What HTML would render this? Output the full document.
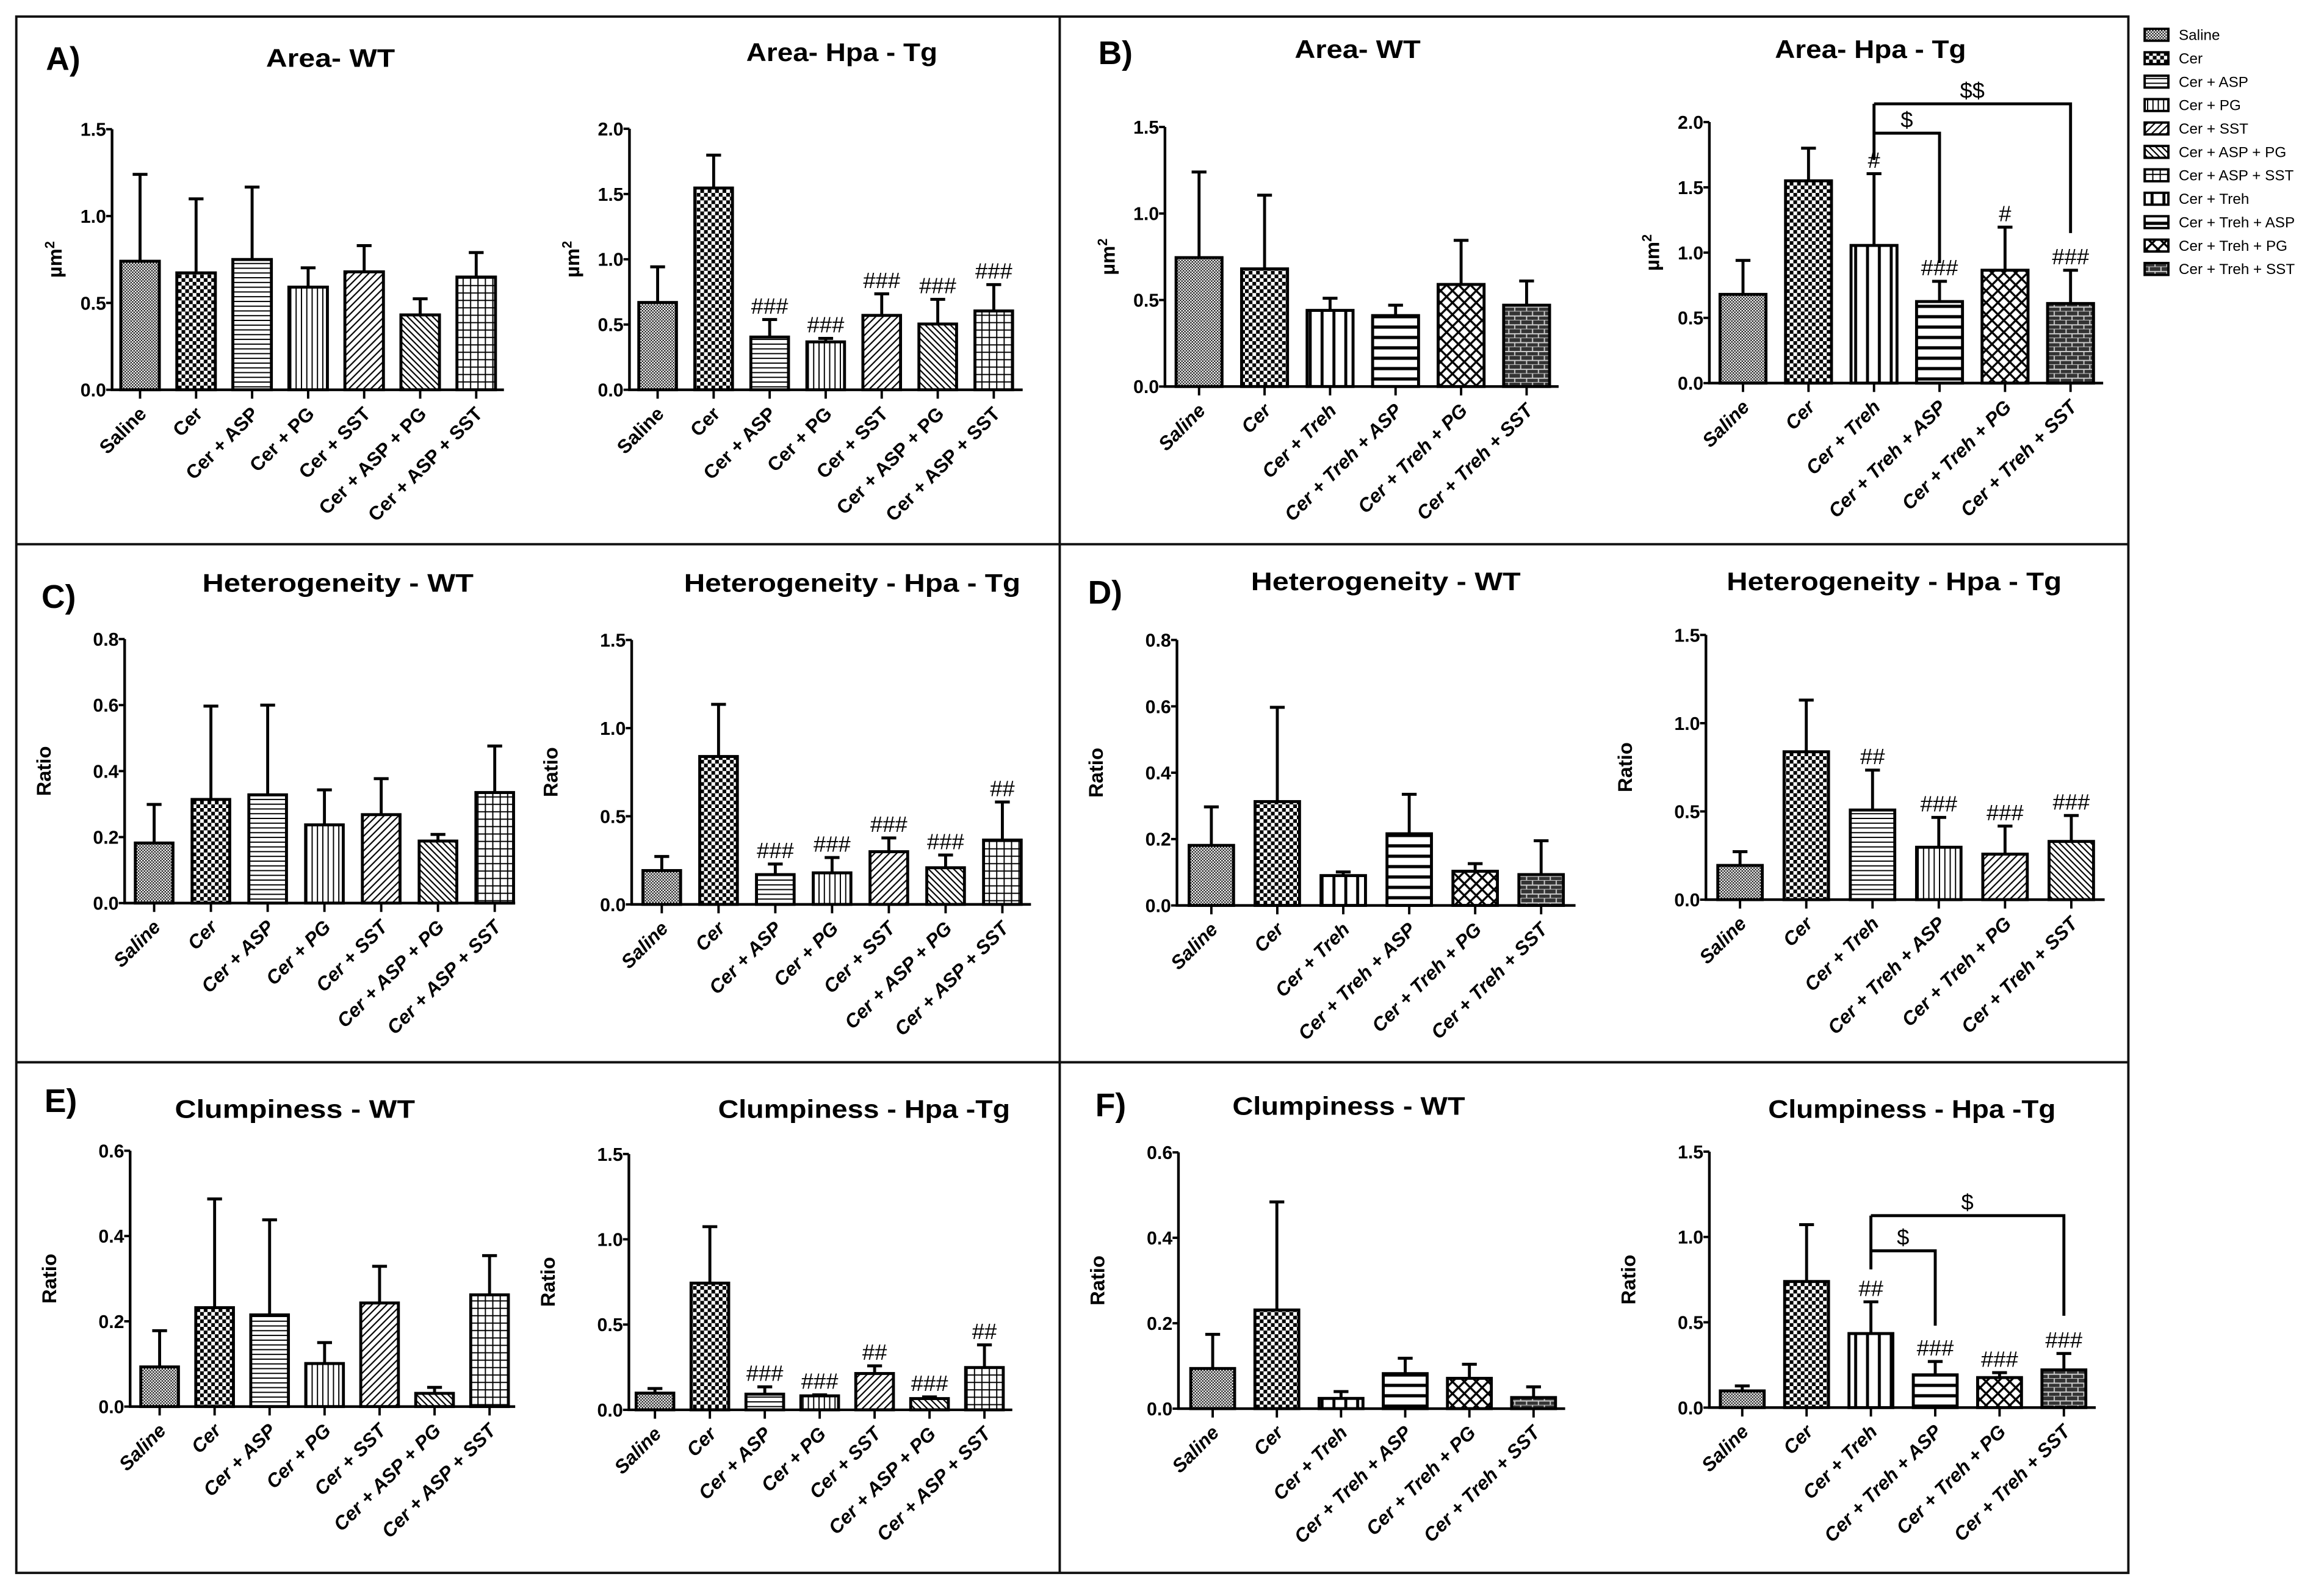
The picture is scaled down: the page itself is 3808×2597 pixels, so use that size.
<!DOCTYPE html>
<html><head><meta charset="utf-8"><style>
html,body{margin:0;padding:0;background:#fff;}
svg{display:block;}
text{font-family:"Liberation Sans",sans-serif;}
</style></head><body>
<svg id="fig" xmlns="http://www.w3.org/2000/svg" width="3808" height="2597" viewBox="0 0 1568 1069">
<defs>
<pattern id="p-fine" patternUnits="userSpaceOnUse" width="2" height="2"><rect width="2" height="2" fill="#fff"/><rect width="1" height="1" fill="#222"/><rect x="1" y="1" width="1" height="1" fill="#222"/></pattern>
<pattern id="p-check" patternUnits="userSpaceOnUse" width="5" height="5"><rect width="5" height="5" fill="#fff"/><rect width="2.5" height="2.5" fill="#000"/><rect x="2.5" y="2.5" width="2.5" height="2.5" fill="#000"/></pattern>
<pattern id="p-hl" patternUnits="userSpaceOnUse" width="4" height="3.2"><rect width="4" height="3.2" fill="#fff"/><line x1="0" y1="1.6" x2="4" y2="1.6" stroke="#000" stroke-width="0.8"/></pattern>
<pattern id="p-vl" patternUnits="userSpaceOnUse" width="3.6" height="4"><rect width="3.6" height="4" fill="#fff"/><line x1="1.8" y1="0" x2="1.8" y2="4" stroke="#000" stroke-width="0.8"/></pattern>
<pattern id="p-d1" patternUnits="userSpaceOnUse" width="3.5" height="3.5" patternTransform="rotate(45)"><rect width="3.5" height="3.5" fill="#fff"/><line x1="1.75" y1="0" x2="1.75" y2="3.5" stroke="#000" stroke-width="0.9"/></pattern>
<pattern id="p-d2" patternUnits="userSpaceOnUse" width="3" height="3" patternTransform="rotate(-45)"><rect width="3" height="3" fill="#fff"/><line x1="1.5" y1="0" x2="1.5" y2="3" stroke="#000" stroke-width="0.9"/></pattern>
<pattern id="p-grid" patternUnits="userSpaceOnUse" width="5" height="5"><rect width="5" height="5" fill="#fff"/><path d="M2.5 0V5M0 2.5H5" stroke="#000" stroke-width="0.8"/></pattern>
<pattern id="p-tv" patternUnits="userSpaceOnUse" width="8" height="8"><rect width="8" height="8" fill="#fff"/><line x1="4" y1="0" x2="4" y2="8" stroke="#000" stroke-width="2"/></pattern>
<pattern id="p-th" patternUnits="userSpaceOnUse" width="8" height="7"><rect width="8" height="7" fill="#fff"/><line x1="0" y1="3.5" x2="8" y2="3.5" stroke="#000" stroke-width="2.2"/></pattern>
<pattern id="p-cross" patternUnits="userSpaceOnUse" width="8" height="8"><rect width="8" height="8" fill="#fff"/><path d="M0 0L8 8M8 0L0 8" stroke="#000" stroke-width="1.4"/></pattern>
<pattern id="p-brick" patternUnits="userSpaceOnUse" width="8" height="6"><rect width="8" height="6" fill="#333"/><path d="M0 3H8M0 6H8M2 0V3M6 3V6" stroke="#ccc" stroke-width="0.8"/></pattern>
</defs>
<g id="frame" fill="none" stroke="#111" stroke-width="1.6">
<rect x="11" y="11" width="1425" height="1050"/>
<line x1="715" y1="11" x2="715" y2="1061"/>
<line x1="11" y1="367" x2="1436" y2="367"/>
<line x1="11" y1="716.5" x2="1436" y2="716.5"/>
</g>
<g id="charts"></g>
<g id="legend"></g>
</svg>
<script>
// ---- data ----
const catsAsp = ["Saline","Cer","Cer + ASP","Cer + PG","Cer + SST","Cer + ASP + PG","Cer + ASP + SST"];
const catsTreh = ["Saline","Cer","Cer + Treh","Cer + Treh + ASP","Cer + Treh + PG","Cer + Treh + SST"];
const areaTicks15 = [0,0.5,1.0,1.5];
const areaTicks20 = [0,0.5,1.0,1.5,2.0];
const ratioTicks08 = [0,0.2,0.4,0.6,0.8];
const ratioTicks06 = [0,0.2,0.4,0.6];
const ratioTicks15 = [0,0.5,1.0,1.5];

const a1Means = [0.74,0.673,0.75,0.591,0.679,0.431,0.649];
const a1Errs  = [1.24,1.099,1.167,0.702,0.83,0.524,0.79];
const a2Means = [0.669,1.546,0.404,0.367,0.57,0.504,0.604];
const a2Errs  = [0.942,1.798,0.538,0.394,0.735,0.693,0.806];
const a2Marks = ["","","###","###","###","###","###"];
const b1Means = [0.745,0.68,0.44,0.41,0.59,0.47];
const b1Errs  = [1.24,1.106,0.51,0.47,0.845,0.61];
const b2Means = [0.68,1.55,1.055,0.625,0.865,0.61];
const b2Errs  = [0.94,1.80,1.605,0.78,1.195,0.865];
const b2Marks = ["","","#","###","#","###"];
const c1Means = [0.182,0.314,0.328,0.237,0.268,0.188,0.335];
const c1Errs  = [0.299,0.597,0.600,0.343,0.377,0.208,0.476];
const c2Means = [0.192,0.839,0.169,0.179,0.299,0.208,0.365];
const c2Errs  = [0.272,1.135,0.229,0.266,0.377,0.28,0.581];
const c2Marks = ["","","###","###","###","###","##"];
const d1Means = [0.181,0.313,0.09,0.216,0.103,0.093];
const d1Errs  = [0.297,0.597,0.101,0.335,0.126,0.195];
const d2Means = [0.194,0.838,0.508,0.297,0.258,0.33];
const d2Errs  = [0.272,1.131,0.734,0.466,0.417,0.477];
const d2Marks = ["","","##","###","###","###"];
const e1Means = [0.093,0.232,0.215,0.101,0.243,0.031,0.262];
const e1Errs  = [0.178,0.487,0.438,0.15,0.329,0.045,0.354];
const e2Means = [0.098,0.743,0.092,0.082,0.213,0.066,0.248];
const e2Errs  = [0.125,1.074,0.135,0.088,0.258,0.076,0.381];
const e2Marks = ["","","###","###","##","###","##"];
const f1Means = [0.094,0.231,0.024,0.082,0.071,0.026];
const f1Errs  = [0.174,0.484,0.04,0.118,0.104,0.051];
const f2Means = [0.098,0.739,0.434,0.192,0.176,0.221];
const f2Errs  = [0.127,1.072,0.62,0.27,0.205,0.317];
const f2Marks = ["","","##","###","###","###"];
// brackets: [fromIndex, toIndex, levelValue, dropEndValue, label]
const b2Brackets = [[2,5,2.14,1.15,"$$"],[2,3,1.915,0.92,"$"]];
const b2BracketStem = [1.71];
const f2Brackets = [[2,5,1.125,0.538,"$"],[2,3,0.919,0.48,"$"]];
const f2BracketStem = [0.81];

const legendLabels = ["Saline","Cer","Cer + ASP","Cer + PG","Cer + SST","Cer + ASP + PG","Cer + ASP + SST","Cer + Treh","Cer + Treh + ASP","Cer + Treh + PG","Cer + Treh + SST"];

// ---- drawing ----
const NS = "http://www.w3.org/2000/svg";
const root = document.getElementById("charts");
function mk(tag, parent){ const e=document.createElementNS(NS,tag); parent.appendChild(e); return e; }

const patAsp = ["p-fine","p-check","p-hl","p-vl","p-d1","p-d2","p-grid"];
const patTreh = ["p-fine","p-check","p-tv","p-th","p-cross","p-brick"];
const patD2 = ["p-fine","p-check","p-hl","p-vl","p-d1","p-d2"];

function drawChart(cfg, cats, means, errs, ticks, marks, pats){
  const g = mk("g", root);
  
  
  const yS = v => cfg.y0 - (v / cfg.max) * (cfg.y0 - cfg.top);
  const xS = i => cfg.x1 + i * cfg.step;
  const t = mk("text", g);
  
  
  t.setAttribute("x", cfg.tx); t.setAttribute("y", cfg.ty);
  t.setAttribute("text-anchor","middle"); t.setAttribute("font-weight","bold"); t.setAttribute("font-size","17");
  t.setAttribute("textLength", cfg.tw); t.setAttribute("lengthAdjust","spacingAndGlyphs");
  t.textContent = cfg.title;
  const yt = mk("text", g);
  
  
  const yc = (cfg.y0 + cfg.top) / 2;
  const yx = cfg.ax + (cfg.unit === "µm" ? -34 : -50);
  yt.setAttribute("transform", `translate(${yx},${yc}) rotate(-90)`);
  yt.setAttribute("text-anchor","middle"); yt.setAttribute("font-weight","bold"); yt.setAttribute("font-size","13.5");
  if (cfg.unit === "µm") { yt.innerHTML = 'µm<tspan dy="-5" font-size="9">2</tspan>'; }
  else { yt.textContent = "Ratio"; }
  means.forEach((m,i)=>{
    const cx = xS(i);
    const r = mk("rect", g);
    
    
    r.setAttribute("x", cx - cfg.bw/2); r.setAttribute("y", yS(m));
    r.setAttribute("width", cfg.bw); r.setAttribute("height", cfg.y0 - yS(m));
    r.setAttribute("fill", `url(#${pats[i]})`); r.setAttribute("stroke","#000"); r.setAttribute("stroke-width","2");
    const eb = mk("path", g);
    
    
    const ye = yS(errs[i]);
    eb.setAttribute("d", `M${cx} ${yS(m)}V${ye}M${cx-5} ${ye}H${cx+5}`);
    eb.setAttribute("stroke","#000"); eb.setAttribute("stroke-width","2"); eb.setAttribute("fill","none");
    if (marks && marks[i]) {
      const mt = mk("text", g);
      
      
      mt.setAttribute("x", cx); mt.setAttribute("y", ye - 4);
      mt.setAttribute("text-anchor","middle"); mt.setAttribute("font-size","15");
      mt.textContent = marks[i];
    }
    const xt = mk("line", g);
    
    
    xt.setAttribute("x1",cx); xt.setAttribute("x2",cx); xt.setAttribute("y1",cfg.y0); xt.setAttribute("y2",cfg.y0+6);
    xt.setAttribute("stroke","#000"); xt.setAttribute("stroke-width","1.6");
    const xl = mk("text", g);
    
    
    xl.setAttribute("transform", `translate(${cx+5},${cfg.y0+17}) rotate(-45)`);
    xl.setAttribute("text-anchor","end"); xl.setAttribute("font-weight","bold"); xl.setAttribute("font-size","13");
    if (cfg.italic) xl.setAttribute("font-style","italic");
    xl.textContent = cats[i];
  });
  const axes = mk("path", g);
  
  
  axes.setAttribute("d", `M${cfg.ax} ${cfg.top}V${cfg.y0}H${cfg.end}`);
  axes.setAttribute("stroke","#000"); axes.setAttribute("stroke-width","1.8"); axes.setAttribute("fill","none");
  ticks.forEach(v=>{
    const tk = mk("line", g);
    
    
    tk.setAttribute("x1",cfg.ax-4); tk.setAttribute("x2",cfg.ax); tk.setAttribute("y1",yS(v)); tk.setAttribute("y2",yS(v));
    tk.setAttribute("stroke","#000"); tk.setAttribute("stroke-width","1.6");
    const tl = mk("text", g);
    
    
    tl.setAttribute("x",cfg.ax-4); tl.setAttribute("y",yS(v)+4.5);
    tl.setAttribute("text-anchor","end"); tl.setAttribute("font-weight","bold"); tl.setAttribute("font-size","12.5");
    tl.textContent = v.toFixed(1);
  });
  return {g, yS, xS};
}

function drawBrackets(ch, brackets, stem){
  brackets.forEach(b=>{
    const x1 = ch.xS(b[0]), x2 = ch.xS(b[1]), y = ch.yS(b[2]), yd = ch.yS(b[3]);
    const p = mk("path", ch.g);
    
    
    p.setAttribute("d", `M${x1} ${y}H${x2}V${yd}`);
    p.setAttribute("stroke","#000"); p.setAttribute("stroke-width","2"); p.setAttribute("fill","none");
    const l = mk("text", ch.g);
    
    
    l.setAttribute("x",(x1+x2)/2); l.setAttribute("y",y-4);
    l.setAttribute("text-anchor","middle"); l.setAttribute("font-size","15");
    l.textContent = b[4];
  });
  const top = Math.max(...brackets.map(b=>b[2]));
  const s = mk("line", ch.g);
  
  
  s.setAttribute("x1",ch.xS(brackets[0][0])); s.setAttribute("x2",ch.xS(brackets[0][0]));
  s.setAttribute("y1",ch.yS(top)); s.setAttribute("y2",ch.yS(stem[0]));
  s.setAttribute("stroke","#000"); s.setAttribute("stroke-width","2");
}

drawChart({name:"chart-area-wt-asp",title:"Area- WT",tx:223,ty:45,tw:87,unit:"µm",ax:75.6,y0:262.8,top:87,max:1.5,x1:94.5,step:37.8,bw:26,end:340},catsAsp,a1Means,a1Errs,areaTicks15,null,patAsp);
drawChart({name:"chart-area-hpa-asp",title:"Area- Hpa - Tg",tx:568,ty:41,tw:129,unit:"µm",ax:424.7,y0:262.8,top:86.7,max:2.0,x1:443.7,step:37.8,bw:25.4,end:690},catsAsp,a2Means,a2Errs,areaTicks20,a2Marks,patAsp);
drawChart({name:"chart-area-wt-treh",title:"Area- WT",tx:916,ty:39,tw:85,unit:"µm",ax:786,y0:260.6,top:85.5,max:1.5,x1:809,step:44.2,bw:31,end:1051.6,italic:true},catsTreh,b1Means,b1Errs,areaTicks15,null,patTreh);
const chB2 = drawChart({name:"chart-area-hpa-treh",title:"Area- Hpa - Tg",tx:1262,ty:39,tw:129,unit:"µm",ax:1153.3,y0:258.3,top:82.2,max:2.0,x1:1176,step:44.2,bw:31,end:1419,italic:true},catsTreh,b2Means,b2Errs,areaTicks20,b2Marks,patTreh);
drawBrackets(chB2,b2Brackets,b2BracketStem);
drawChart({name:"chart-heterogeneity-wt-asp",title:"Heterogeneity - WT",tx:228,ty:399,tw:183,unit:"r",ax:84.1,y0:609.1,top:431,max:0.8,x1:104,step:38.3,bw:25.4,end:347.6,italic:true},catsAsp,c1Means,c1Errs,ratioTicks08,null,patAsp);
drawChart({name:"chart-heterogeneity-hpa-asp",title:"Heterogeneity - Hpa - Tg",tx:575,ty:399,tw:227,unit:"r",ax:426.2,y0:610,top:431.6,max:1.5,x1:446.5,step:38.3,bw:25.4,end:695.6,italic:true},catsAsp,c2Means,c2Errs,ratioTicks15,c2Marks,patAsp);
drawChart({name:"chart-heterogeneity-wt-treh",title:"Heterogeneity - WT",tx:935,ty:398,tw:182,unit:"r",ax:794.1,y0:610.7,top:431.6,max:0.8,x1:817.3,step:44.5,bw:30,end:1063,italic:true},catsTreh,d1Means,d1Errs,ratioTicks08,null,patTreh);
drawChart({name:"chart-heterogeneity-hpa-treh",title:"Heterogeneity - Hpa - Tg",tx:1278,ty:398,tw:226,unit:"r",ax:1151,y0:606.8,top:428.2,max:1.5,x1:1174,step:44.7,bw:30,end:1420,italic:true},catsTreh,d2Means,d2Errs,ratioTicks15,d2Marks,patD2);
drawChart({name:"chart-clumpiness-wt-asp",title:"Clumpiness  - WT",tx:199,ty:754,tw:162,unit:"r",ax:87.8,y0:948.8,top:776.2,max:0.6,x1:107.7,step:37.1,bw:25.4,end:347.6,italic:true},catsAsp,e1Means,e1Errs,ratioTicks06,null,patAsp);
drawChart({name:"chart-clumpiness-hpa-asp",title:"Clumpiness - Hpa -Tg",tx:583,ty:754,tw:197,unit:"r",ax:424.3,y0:951,top:778.4,max:1.5,x1:441.9,step:37.05,bw:25.4,end:683,italic:true},catsAsp,e2Means,e2Errs,ratioTicks15,e2Marks,patAsp);
drawChart({name:"chart-clumpiness-wt-treh",title:"Clumpiness - WT",tx:910,ty:752,tw:157,unit:"r",ax:795.1,y0:950.2,top:777.3,max:0.6,x1:818.2,step:43.3,bw:29.6,end:1056,italic:true},catsTreh,f1Means,f1Errs,ratioTicks06,null,patTreh);
const chF2 = drawChart({name:"chart-clumpiness-hpa-treh",title:"Clumpiness - Hpa -Tg",tx:1290,ty:754,tw:194,unit:"r",ax:1153.3,y0:949.5,top:776.8,max:1.5,x1:1175.5,step:43.4,bw:29.6,end:1414,italic:true},catsTreh,f2Means,f2Errs,ratioTicks15,f2Marks,patTreh);
drawBrackets(chF2,f2Brackets,f2BracketStem);

[["A)",31,47],["B)",741,43],["C)",28,410],["D)",734,407],["E)",30,750],["F)",739,753]].forEach(p=>{
  const t = mk("text", root);
  
  
  t.setAttribute("x",p[1]); t.setAttribute("y",p[2]);
  t.setAttribute("font-weight","bold"); t.setAttribute("font-size","22");
  t.textContent = p[0];
});

const lg = document.getElementById("legend");
const legendPats = ["p-fine","p-check","p-hl","p-vl","p-d1","p-d2","p-grid","p-tv","p-th","p-cross","p-brick"];
legendLabels.forEach((lab,i)=>{
  const y = 23.3 + i*15.8;
  const r = mk("rect", lg);
  
  
  r.setAttribute("x",1447); r.setAttribute("y",y-4); r.setAttribute("width",16); r.setAttribute("height",8);
  r.setAttribute("fill",`url(#${legendPats[i]})`); r.setAttribute("stroke","#000"); r.setAttribute("stroke-width","1.6");
  const t = mk("text", lg);
  
  
  t.setAttribute("x",1470); t.setAttribute("y",y+3.5);
  t.setAttribute("font-size","10");
  t.textContent = lab;
});
</script>
</body></html>
